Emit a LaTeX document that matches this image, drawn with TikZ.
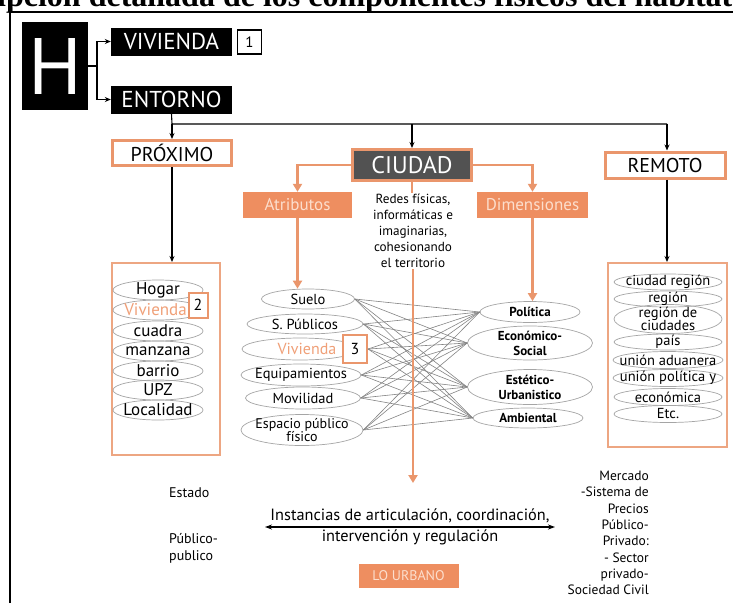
\documentclass[tikz,border=0pt]{standalone}
\usepackage{fontspec}
\setmainfont{PT Sans}
\newfontfamily\titlefont{Liberation Serif}
\usetikzlibrary{shapes.geometric,arrows.meta}
\definecolor{orline}{RGB}{234,150,108}
\definecolor{orfill}{RGB}{238,142,96}
\definecolor{pale}{RGB}{252,222,205}
\definecolor{ciugrey}{RGB}{82,82,82}
\definecolor{vivor}{RGB}{240,160,120}
\definecolor{ellg}{RGB}{165,165,165}
\newcommand\fs[1]{\fontsize{#1}{#1}\selectfont}
\begin{document}
\begin{tikzpicture}[x=1pt,y=-1pt,
 blackbox/.style={fill=black,text=white,inner sep=0,minimum height=28,minimum width=121,font=\fs{23}},
 orbox/.style={draw=orline,line width=3pt,fill=white,inner sep=0},
 orfillbox/.style={fill=orfill,text=pale,inner sep=0,minimum width=110,minimum height=26,font=\fs{17}},
 listbox/.style={draw=orline!85,line width=2pt,inner sep=0},
 ell/.style={draw=ellg,ellipse,line width=0.7pt,inner sep=0},
 conn/.style={line width=1.1pt,-{Stealth[length=6pt,width=5pt]}},
 orconn/.style={draw=orline,line width=2.6pt,-{Triangle[length=8pt,width=9pt]}},
 cross/.style={draw=ellg!80!black,line width=0.6pt},
 itemA/.style={font=\fs{17},inner sep=0},
 itemB/.style={font=\fs{14.5},inner sep=0},
 itemC/.style={font=\bfseries\fontsize{13}{15}\selectfont,align=center,inner sep=0},
 itemD/.style={font=\fontsize{14.5}{13.5}\selectfont,align=center,inner sep=0},
]
\useasboundingbox (0,0) rectangle (733,603);
\fill[white] (0,0) rectangle (733,603);

% title (cropped at the top, as in the reference)
\node[anchor=base west,inner sep=0,font=\titlefont\bfseries\fs{32}] (title) at (-3,6) {ipción detallada de los componentes físicos del habitat};

% frame
\draw[line width=2.5pt] (10,603) -- (10,12) -- (733,12);

% H and first branch
\node[fill=black,minimum width=66,minimum height=88,inner sep=0,text=white,font=\fs{80}] (H) at (55,66) {H};
\node[blackbox] (viv) at (171.5,41.5) {VIVIENDA};
\node[draw=black,line width=1.2pt,fill=white,minimum width=24,minimum height=24,inner sep=0,font=\fs{15}] (one) at (249.5,42) {1};
\node[blackbox] (ent) at (171.5,99.5) {ENTORNO};
\coordinate (hj) at (97,66);
\draw[line width=1.1pt] (H.east) -- (hj);
\draw[conn] (hj) |- (viv.west);
\draw[conn] (hj) |- (ent.west);

% second level
\node[orbox,minimum width=119,minimum height=25,font=\fs{20}] (prox) at (172,153) {PRÓXIMO};
\node[draw=orline,line width=3pt,fill=ciugrey,text=white,minimum width=119,minimum height=31,inner sep=0,font=\fs{24}] (ciu) at (412,165) {CIUDAD};
\node[orbox,minimum width=120,minimum height=26,font=\fs{20}] (rem) at (665,165) {REMOTO};
\coordinate (bl) at (172,124);
\coordinate (br) at (667,124);
\draw[line width=1.1pt] (ent.south) -- (bl) -- (br);
\draw[conn] (bl) -- (prox.north);
\draw[conn] (ciu.north |- bl) -- (ciu.north);
\draw[conn] (br) -- (br |- rem.north);

% atributos / dimensiones
\node[orfillbox,minimum width=109] (atr) at (297.5,205) {Atributos};
\node[orfillbox,minimum width=111] (dim) at (532.5,205) {Dimensiones};
\draw[orconn] (ciu.west) -| (atr.north);
\draw[orconn] (ciu.east) -| (dim.north);
\node[align=center,inner sep=1pt,font=\fontsize{13.2}{16}\selectfont] (redes) at (413,231) {Redes físicas,\\informáticas e\\imaginarias,\\cohesionando\\el territorio};
\draw[draw=orline,line width=2.6pt] (ciu.south) -- (ciu.south |- redes.north);

% left list (PROXIMO)
\node[listbox,minimum width=108,minimum height=192] (plist) at (166,359) {};
\draw[conn] (prox.south) -- (prox.south |- plist.north);
\node[ell,minimum width=90,minimum height=20] (p1) at (158,290) {};
\node[ell,minimum width=90,minimum height=20] (p2) at (158,310) {};
\node[ell,minimum width=90,minimum height=20] (p3) at (158,331) {};
\node[ell,minimum width=90,minimum height=20] (p4) at (158,351) {};
\node[ell,minimum width=90,minimum height=20] (p5) at (158,371) {};
\node[ell,minimum width=90,minimum height=20] (p6) at (158,390) {};
\node[ell,minimum width=90,minimum height=20] (p7) at (158,410) {};
\node[itemA] (t1) at (p1) {Hogar};
\node[itemA,text=vivor,anchor=east] (t2) at (187,310) {Vivienda};
\node[itemA] (t3) at (p3) {cuadra};
\node[itemA] (t4) at (p4) {manzana};
\node[itemA] (t5) at (p5) {barrio};
\node[itemA] (t6) at (p6) {UPZ};
\node[itemA] (t7) at (p7) {Localidad};
\node[draw=orline,line width=2pt,fill=white,minimum width=19,minimum height=25,inner sep=0,font=\fs{16}] (two) at (198,305) {2};

% attribute ellipses
\node[ell,minimum width=93,minimum height=20] (suelo) at (308,299) {};
\node[ell,minimum width=116,minimum height=20] (spub) at (305,324) {};
\node[ell,minimum width=116,minimum height=22] (vivE) at (300,349) {};
\node[ell,minimum width=120,minimum height=22] (equip) at (301,375) {};
\node[ell,minimum width=115,minimum height=22] (movil) at (303,398) {};
\node[ell,minimum width=122,minimum height=31] (espacio) at (302,430) {};
\node[itemB] (a1) at (suelo) {Suelo};
\node[itemB] (a2) at (spub) {S. Públicos};
\node[itemB,font=\fs{16},text=vivor] (a3) at (307,349) {Vivienda};
\node[itemB] (a4) at (equip) {Equipamientos};
\node[itemB] (a5) at (movil) {Movilidad};
\node[itemB,align=center,font=\fontsize{14}{11}\selectfont] (a6) at (espacio) {Espacio público\\físico};
\node[draw=orline,line width=2pt,fill=white,minimum width=24,minimum height=28,inner sep=0,font=\fs{16}] (three) at (355,349) {3};
\draw[orconn] (atr.south) -- (atr.south |- suelo.north);

% dimension ellipses
\node[ell,minimum width=100,minimum height=21] (pol) at (530,312) {};
\node[ell,minimum width=125,minimum height=34] (eco) at (530,343) {};
\node[ell,minimum width=125,minimum height=35] (est) at (530,387) {};
\node[ell,minimum width=110,minimum height=20] (amb) at (528,418) {};
\node[itemC] (d1) at (pol) {Política};
\node[itemC] (d2) at (eco) {Económico-\\Social};
\node[itemC] (d3) at (est) {Estético-\\Urbanistico};
\node[itemC] (d4) at (amb) {Ambiental};
\draw[orconn] (dim.south) -- (dim.south |- pol.north);

% crossing links
\foreach \a in {suelo,spub,three,equip,movil,espacio}
  \foreach \b in {pol,eco,est,amb}
    \draw[cross] (\a.east) -- (\b.west);

% central orange arrow
\coordinate (urbtip) at (413,483);
\draw[orconn] (redes.south) -- (urbtip);

% right list (REMOTO)
\node[listbox,minimum width=119,minimum height=184] (rlist) at (667.5,355) {};
\draw[conn] (rem.south -| br) -- (br |- rlist.north);
\node[ell,minimum width=108,minimum height=16] (r1) at (668,282) {};
\node[ell,minimum width=108,minimum height=16] (r2) at (668,299) {};
\node[ell,minimum width=108,minimum height=29] (r3) at (668,319) {};
\node[ell,minimum width=108,minimum height=16] (r4) at (668,342) {};
\node[ell,minimum width=110,minimum height=17] (r5) at (668,360) {};
\node[ell,minimum width=110,minimum height=17] (r6) at (668,378) {};
\node[ell,minimum width=108,minimum height=17] (r7) at (668,397) {};
\node[ell,minimum width=108,minimum height=17] (r8) at (668,414) {};
\node[itemD] (s1) at (r1) {ciudad región};
\node[itemD] (s2) at (r2) {región};
\node[itemD] (s3) at (r3) {región de\\ciudades};
\node[itemD] (s4) at (r4) {país};
\node[itemD] (s5) at (r5) {unión aduanera};
\node[itemD] (s6) at (r6) {unión política y};
\node[itemD] (s7) at (r7) {económica};
\node[itemD] (s8) at (r8) {Etc.};

% bottom part
\node[anchor=west,inner sep=0,font=\fs{14}] (estado) at (169,493) {Estado};
\node[anchor=north west,align=left,inner sep=0,font=\fontsize{14}{17}\selectfont] (pp) at (169,533) {Público-\\publico};
\node[anchor=north east,align=right,inner sep=0,font=\fontsize{13.5}{16.3}\selectfont] (merc) at (649,471) {Mercado\\-Sistema de\\Precios\\Público-\\Privado:\\- Sector\\privado-\\Sociedad Civil};
\coordinate (al) at (265,527);
\coordinate (ar) at (555,527);
\draw[line width=1.2pt,{Stealth[length=7pt,width=5pt]}-{Stealth[length=7pt,width=5pt]}] (al) -- (ar);
\node[inner sep=0,font=\fs{16.3}] (inst1) at (410,516) {Instancias de articulación, coordinación,};
\node[inner sep=0,font=\fs{16.3}] (inst2) at (410,537) {intervención y regulación};
\node[fill=orfill,text=pale,minimum width=100,minimum height=24,inner sep=0,font=\fs{14}] (lou) at (408.5,576) {LO URBANO};
\end{tikzpicture}
\end{document}
